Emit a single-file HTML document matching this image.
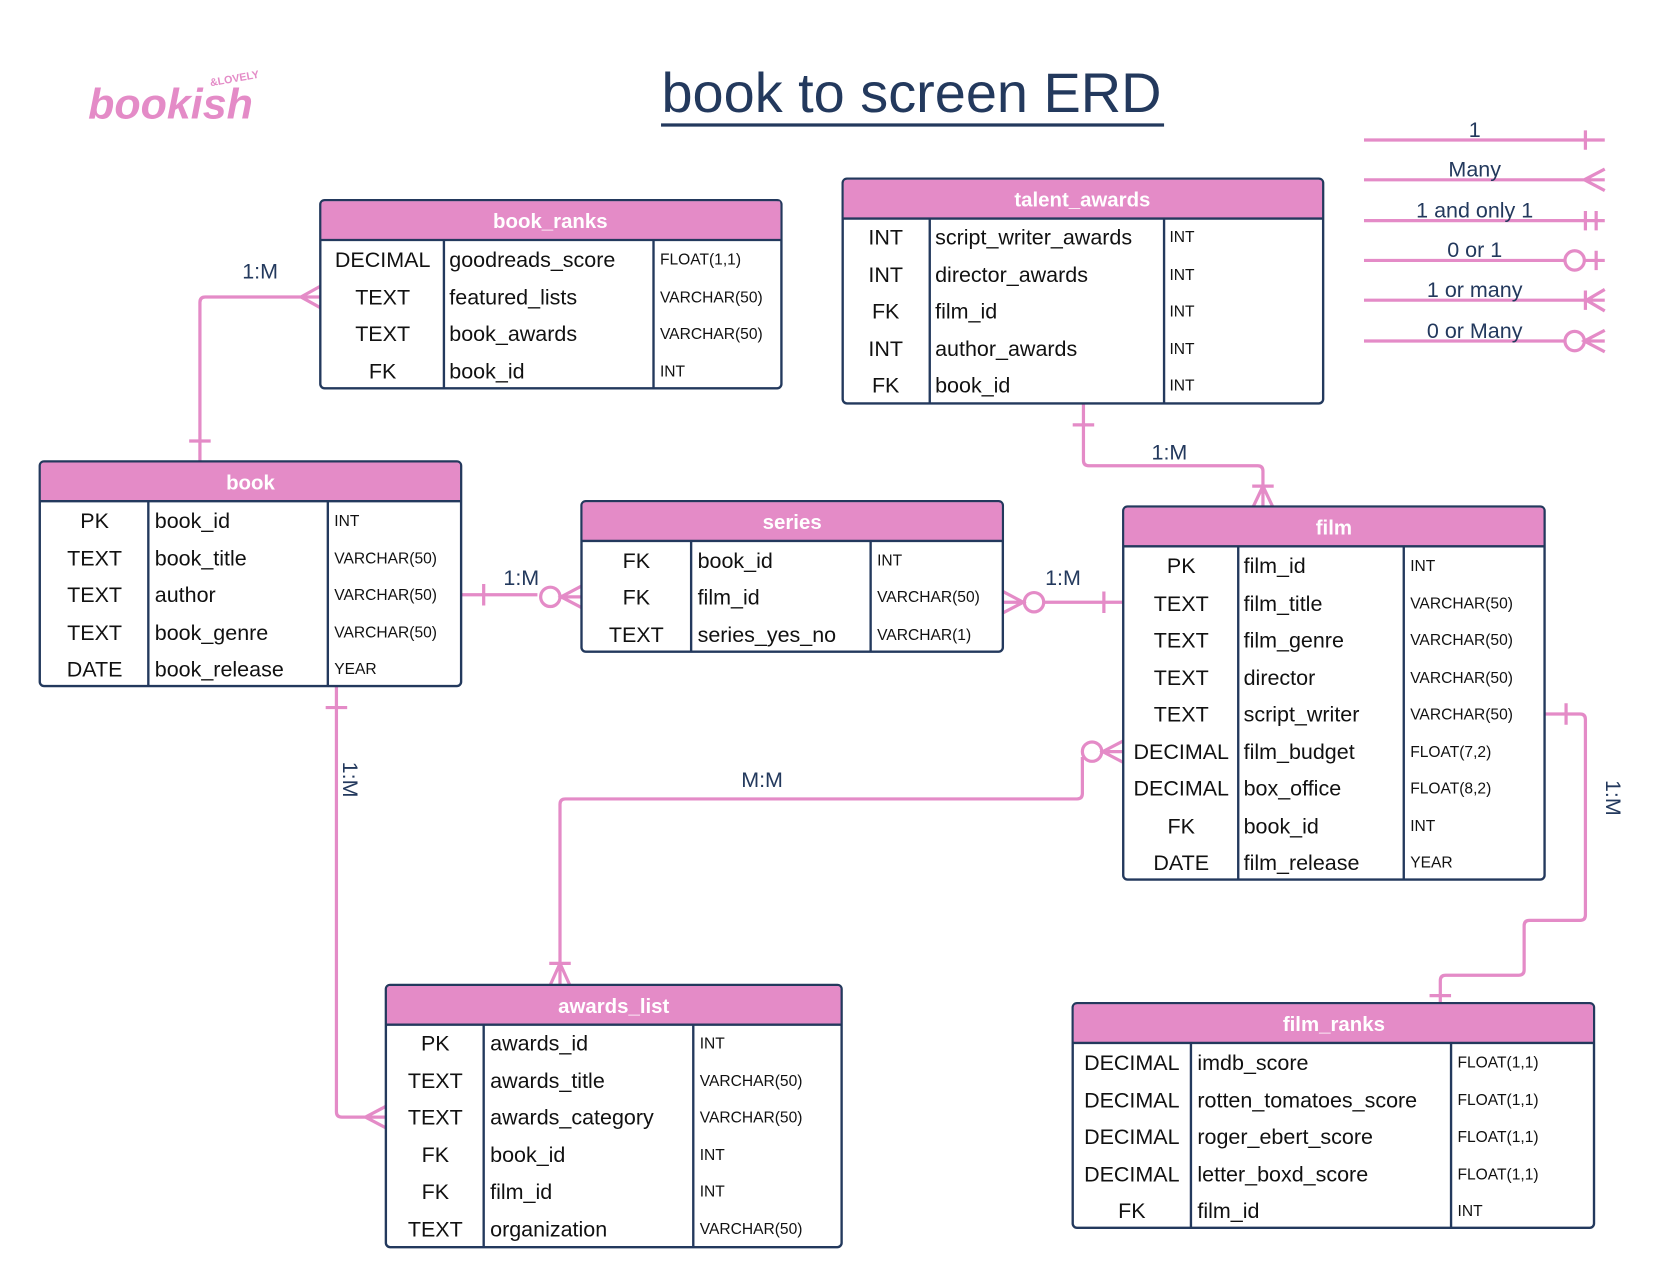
<!DOCTYPE html>
<html><head><meta charset="utf-8"><style>
html,body{margin:0;padding:0;background:#fff;}
svg{display:block;}
text{font-family:"Liberation Sans",sans-serif;}
.h{fill:#fff;font-weight:bold;font-size:19px;text-anchor:middle;}
.k{fill:#111;font-size:20px;text-anchor:middle;}
.n{fill:#111;font-size:20px;}
.t{fill:#111;font-size:14.5px;}
.lb{fill:#23395d;font-size:20px;text-anchor:middle;}
.c{stroke:#e48bc7;stroke-width:3;fill:none;}
</style></head><body>
<svg width="1680" height="1284" viewBox="0 0 1563 1194" xmlns="http://www.w3.org/2000/svg">
<rect width="1563" height="1194" fill="#fff"/>
<!-- logo -->
<text x="82" y="110" font-family="Liberation Serif,serif" font-style="italic" font-size="40" fill="#e48bc7" font-weight="bold">bookish</text>
<text x="196" y="80" font-size="10" fill="#e48bc7" font-weight="bold" transform="rotate(-10 196 80)">&amp;LOVELY</text>
<!-- title -->
<text x="848" y="104" font-size="52" fill="#23395d" text-anchor="middle">book to screen ERD</text>
<line x1="615" y1="116" x2="1083" y2="116" stroke="#23395d" stroke-width="3"/>
<!-- legend -->
<g class="c">
<path d="M1269 130H1493M1475 121V139"/>
<path d="M1269 167H1493M1493 157L1474 167L1493 177"/>
<path d="M1269 205H1493M1475 196V214M1485 196V214"/>
<path d="M1269 242H1456M1475 242H1493M1485 233V251"/><circle cx="1465" cy="242" r="9"/>
<path d="M1269 279H1493M1475 270V288M1493 269L1476 279L1493 289"/>
<path d="M1269 317H1456M1475 317H1493M1493 307L1474 317L1493 327"/><circle cx="1465" cy="317" r="9"/>
</g>
<text class="lb" x="1372" y="127">1</text>
<text class="lb" x="1372" y="164">Many</text>
<text class="lb" x="1372" y="202">1 and only 1</text>
<text class="lb" x="1372" y="239">0 or 1</text>
<text class="lb" x="1372" y="276">1 or many</text>
<text class="lb" x="1372" y="314">0 or Many</text>

<!-- connectors -->
<g class="c">
<path d="M186 429V281Q186 276 191 276H298M298 266L280 276L298 286M176 410H196"/>
<path d="M429 553H500M450 543V563M541 545L522 555L541 565M521 555H541"/><circle cx="512" cy="555" r="9"/>
<path d="M1045 560H971M1027 550V570M933 550L952 560L933 570M933 560H953"/><circle cx="962" cy="560" r="9"/>
<path d="M1008 375V428Q1008 433 1013 433H1170Q1175 433 1175 438V471M998 395H1018M1165 452H1185M1166 471L1175 452L1184 471"/>
<path d="M313 638V1034Q313 1039 318 1039H359M359 1029L340 1039L359 1049M303 658H323"/>
<path d="M1045 699H1026M1045 689L1026 699L1045 709M1007 704V738Q1007 743 1002 743H526Q521 743 521 748V916M511 896H531M512 916L521 896L530 916"/><circle cx="1016" cy="699" r="9"/>
<path d="M1437 664H1470Q1475 664 1475 669V851Q1475 856 1470 856H1423Q1418 856 1418 861V902Q1418 907 1413 907H1345Q1340 907 1340 912V933M1457 654V674M1330 926H1350"/>
</g>
<text class="lb" x="242" y="259">1:M</text>
<text class="lb" x="485" y="544">1:M</text>
<text class="lb" x="989" y="544">1:M</text>
<text class="lb" x="1088" y="427">1:M</text>
<text class="lb" x="709" y="732">M:M</text>
<text class="lb" transform="translate(319 725) rotate(90)">1:M</text>
<text class="lb" transform="translate(1494 742) rotate(90)">1:M</text>

<!-- tables -->
<g id="tables" stroke="#23395d" stroke-width="2.2">
<!-- book_ranks -->
<rect x="298" y="186" width="429" height="175" rx="4" fill="#fff"/>
<path d="M300 187H725Q726 187 726 190V223H299V190Q299 187 302 187Z" fill="#e48bc7" stroke="none"/>
<line x1="298" y1="223" x2="727" y2="223"/><line x1="413" y1="223" x2="413" y2="361"/><line x1="608" y1="223" x2="608" y2="361"/>
<!-- talent_awards -->
<rect x="784" y="166" width="447" height="209" rx="4" fill="#fff"/>
<path d="M785 170Q785 167 788 167H1227Q1230 167 1230 170V203H785Z" fill="#e48bc7" stroke="none"/>
<line x1="784" y1="203" x2="1231" y2="203"/><line x1="865" y1="203" x2="865" y2="375"/><line x1="1083" y1="203" x2="1083" y2="375"/>
<!-- book -->
<rect x="37" y="429" width="392" height="209" rx="4" fill="#fff"/>
<path d="M38 433Q38 430 41 430H425Q428 430 428 433V466H38Z" fill="#e48bc7" stroke="none"/>
<line x1="37" y1="466" x2="429" y2="466"/><line x1="138" y1="466" x2="138" y2="638"/><line x1="305" y1="466" x2="305" y2="638"/>
<!-- series -->
<rect x="541" y="466" width="392" height="140" rx="4" fill="#fff"/>
<path d="M542 470Q542 467 545 467H929Q932 467 932 470V503H542Z" fill="#e48bc7" stroke="none"/>
<line x1="541" y1="503" x2="933" y2="503"/><line x1="643" y1="503" x2="643" y2="606"/><line x1="810" y1="503" x2="810" y2="606"/>
<!-- film -->
<rect x="1045" y="471" width="392" height="347" rx="4" fill="#fff"/>
<path d="M1046 475Q1046 472 1049 472H1433Q1436 472 1436 475V508H1046Z" fill="#e48bc7" stroke="none"/>
<line x1="1045" y1="508" x2="1437" y2="508"/><line x1="1152" y1="508" x2="1152" y2="818"/><line x1="1306" y1="508" x2="1306" y2="818"/>
<!-- awards_list -->
<rect x="359" y="916" width="424" height="244" rx="4" fill="#fff"/>
<path d="M360 920Q360 917 363 917H779Q782 917 782 920V953H360Z" fill="#e48bc7" stroke="none"/>
<line x1="359" y1="953" x2="783" y2="953"/><line x1="450" y1="953" x2="450" y2="1160"/><line x1="645" y1="953" x2="645" y2="1160"/>
<!-- film_ranks -->
<rect x="998" y="933" width="485" height="209" rx="4" fill="#fff"/>
<path d="M999 937Q999 934 1002 934H1479Q1482 934 1482 937V970H999Z" fill="#e48bc7" stroke="none"/>
<line x1="998" y1="970" x2="1483" y2="970"/><line x1="1108" y1="970" x2="1108" y2="1142"/><line x1="1350" y1="970" x2="1350" y2="1142"/>
</g>

<!-- table text -->
<text class="h" x="512" y="212">book_ranks</text>
<text class="k" x="356" y="248">DECIMAL</text><text class="n" x="418" y="248">goodreads_score</text><text class="t" x="614" y="246">FLOAT(1,1)</text>
<text class="k" x="356" y="283">TEXT</text><text class="n" x="418" y="283">featured_lists</text><text class="t" x="614" y="281">VARCHAR(50)</text>
<text class="k" x="356" y="317">TEXT</text><text class="n" x="418" y="317">book_awards</text><text class="t" x="614" y="315">VARCHAR(50)</text>
<text class="k" x="356" y="352">FK</text><text class="n" x="418" y="352">book_id</text><text class="t" x="614" y="350">INT</text>

<text class="h" x="1007" y="192">talent_awards</text>
<text class="k" x="824" y="227">INT</text><text class="n" x="870" y="227">script_writer_awards</text><text class="t" x="1088" y="225">INT</text>
<text class="k" x="824" y="262">INT</text><text class="n" x="870" y="262">director_awards</text><text class="t" x="1088" y="260">INT</text>
<text class="k" x="824" y="296">FK</text><text class="n" x="870" y="296">film_id</text><text class="t" x="1088" y="294">INT</text>
<text class="k" x="824" y="331">INT</text><text class="n" x="870" y="331">author_awards</text><text class="t" x="1088" y="329">INT</text>
<text class="k" x="824" y="365">FK</text><text class="n" x="870" y="365">book_id</text><text class="t" x="1088" y="363">INT</text>

<text class="h" x="233" y="455">book</text>
<text class="k" x="88" y="491">PK</text><text class="n" x="144" y="491">book_id</text><text class="t" x="311" y="489">INT</text>
<text class="k" x="88" y="526">TEXT</text><text class="n" x="144" y="526">book_title</text><text class="t" x="311" y="524">VARCHAR(50)</text>
<text class="k" x="88" y="560">TEXT</text><text class="n" x="144" y="560">author</text><text class="t" x="311" y="558">VARCHAR(50)</text>
<text class="k" x="88" y="595">TEXT</text><text class="n" x="144" y="595">book_genre</text><text class="t" x="311" y="593">VARCHAR(50)</text>
<text class="k" x="88" y="629">DATE</text><text class="n" x="144" y="629">book_release</text><text class="t" x="311" y="627">YEAR</text>

<text class="h" x="737" y="492">series</text>
<text class="k" x="592" y="528">FK</text><text class="n" x="649" y="528">book_id</text><text class="t" x="816" y="526">INT</text>
<text class="k" x="592" y="562">FK</text><text class="n" x="649" y="562">film_id</text><text class="t" x="816" y="560">VARCHAR(50)</text>
<text class="k" x="592" y="597">TEXT</text><text class="n" x="649" y="597">series_yes_no</text><text class="t" x="816" y="595">VARCHAR(1)</text>

<text class="h" x="1241" y="497">film</text>
<text class="k" x="1099" y="533">PK</text><text class="n" x="1157" y="533">film_id</text><text class="t" x="1312" y="531">INT</text>
<text class="k" x="1099" y="568">TEXT</text><text class="n" x="1157" y="568">film_title</text><text class="t" x="1312" y="566">VARCHAR(50)</text>
<text class="k" x="1099" y="602">TEXT</text><text class="n" x="1157" y="602">film_genre</text><text class="t" x="1312" y="600">VARCHAR(50)</text>
<text class="k" x="1099" y="637">TEXT</text><text class="n" x="1157" y="637">director</text><text class="t" x="1312" y="635">VARCHAR(50)</text>
<text class="k" x="1099" y="671">TEXT</text><text class="n" x="1157" y="671">script_writer</text><text class="t" x="1312" y="669">VARCHAR(50)</text>
<text class="k" x="1099" y="706">DECIMAL</text><text class="n" x="1157" y="706">film_budget</text><text class="t" x="1312" y="704">FLOAT(7,2)</text>
<text class="k" x="1099" y="740">DECIMAL</text><text class="n" x="1157" y="740">box_office</text><text class="t" x="1312" y="738">FLOAT(8,2)</text>
<text class="k" x="1099" y="775">FK</text><text class="n" x="1157" y="775">book_id</text><text class="t" x="1312" y="773">INT</text>
<text class="k" x="1099" y="809">DATE</text><text class="n" x="1157" y="809">film_release</text><text class="t" x="1312" y="807">YEAR</text>

<text class="h" x="571" y="942">awards_list</text>
<text class="k" x="405" y="977">PK</text><text class="n" x="456" y="977">awards_id</text><text class="t" x="651" y="975">INT</text>
<text class="k" x="405" y="1012">TEXT</text><text class="n" x="456" y="1012">awards_title</text><text class="t" x="651" y="1010">VARCHAR(50)</text>
<text class="k" x="405" y="1046">TEXT</text><text class="n" x="456" y="1046">awards_category</text><text class="t" x="651" y="1044">VARCHAR(50)</text>
<text class="k" x="405" y="1081">FK</text><text class="n" x="456" y="1081">book_id</text><text class="t" x="651" y="1079">INT</text>
<text class="k" x="405" y="1115">FK</text><text class="n" x="456" y="1115">film_id</text><text class="t" x="651" y="1113">INT</text>
<text class="k" x="405" y="1150">TEXT</text><text class="n" x="456" y="1150">organization</text><text class="t" x="651" y="1148">VARCHAR(50)</text>

<text class="h" x="1241" y="959">film_ranks</text>
<text class="k" x="1053" y="995">DECIMAL</text><text class="n" x="1114" y="995">imdb_score</text><text class="t" x="1356" y="993">FLOAT(1,1)</text>
<text class="k" x="1053" y="1030">DECIMAL</text><text class="n" x="1114" y="1030">rotten_tomatoes_score</text><text class="t" x="1356" y="1028">FLOAT(1,1)</text>
<text class="k" x="1053" y="1064">DECIMAL</text><text class="n" x="1114" y="1064">roger_ebert_score</text><text class="t" x="1356" y="1062">FLOAT(1,1)</text>
<text class="k" x="1053" y="1099">DECIMAL</text><text class="n" x="1114" y="1099">letter_boxd_score</text><text class="t" x="1356" y="1097">FLOAT(1,1)</text>
<text class="k" x="1053" y="1133">FK</text><text class="n" x="1114" y="1133">film_id</text><text class="t" x="1356" y="1131">INT</text>
</svg>
</body></html>
